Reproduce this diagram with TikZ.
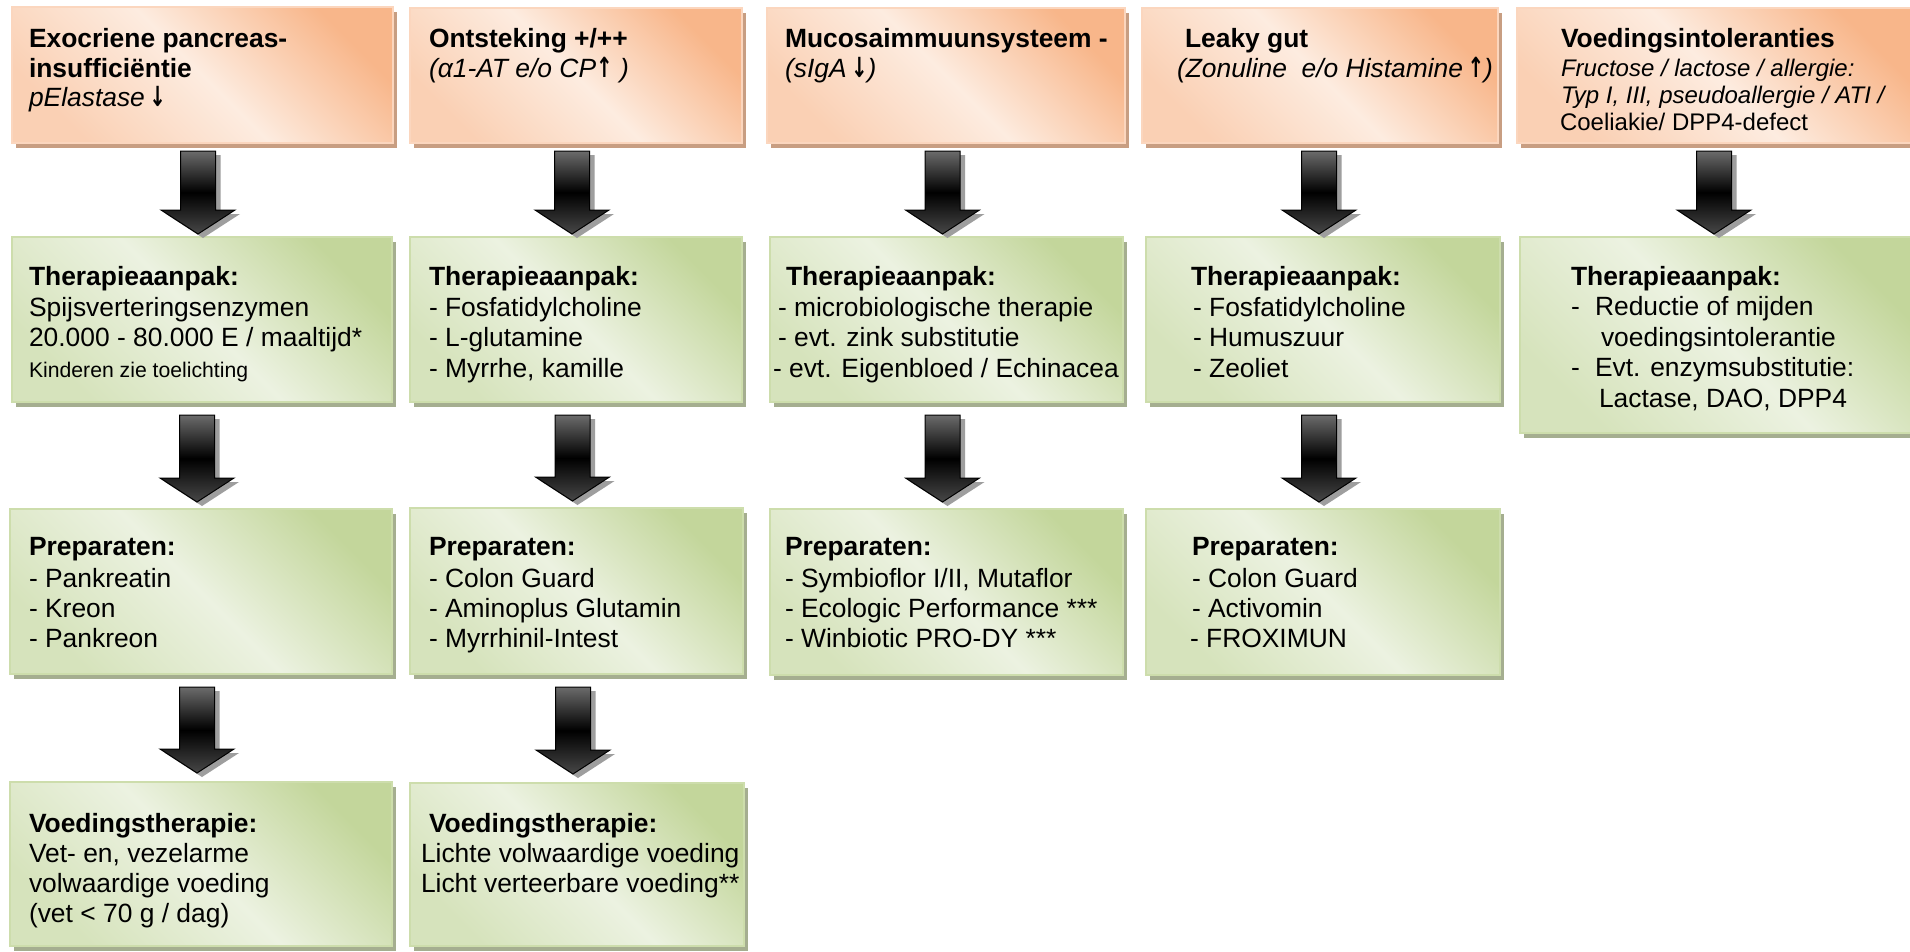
\documentclass[tikz,border=0pt]{standalone}
\usepackage{graphicx}
\usepackage{fontspec}
\setmainfont{Liberation Sans}
\newfontfamily\arrfont{DejaVu Sans}
\usetikzlibrary{calc,shadows}
\definecolor{orD}{RGB}{248,182,138}
\definecolor{orL}{RGB}{253,236,224}
\definecolor{orM}{RGB}{250,208,180}
\definecolor{orS}{RGB}{200,158,130}
\definecolor{orE}{RGB}{251,214,190}
\definecolor{grD}{RGB}{195,214,155}
\definecolor{grL}{RGB}{236,242,225}
\definecolor{grM}{RGB}{214,227,188}
\definecolor{grS}{RGB}{165,174,144}
\definecolor{grE}{RGB}{205,221,172}
\newcommand\fs{\fontsize{26.4}{30}\selectfont}
\newcommand\fsmall{\fontsize{21.2}{25}\selectfont}
\newcommand\fmid{\fontsize{24}{27}\selectfont}
\newcommand\dn{{\upshape\scalebox{0.75}[1.05]{\arrfont\bfseries ↓}}}
\newcommand\up{{\upshape\scalebox{0.75}[1.05]{\arrfont\bfseries ↑}}}
\tikzset{
  obox/.style={rectangle, inner sep=0pt, outer sep=0pt,
    top color=orD, bottom color=orM, middle color=orL, shading angle=-45,
    draw=orE, line width=1.2pt,
    drop shadow={shadow xshift=4pt, shadow yshift=-5pt, fill=orS, opacity=1}},
  gbox/.style={rectangle, inner sep=0pt, outer sep=0pt,
    top color=grD, bottom color=grM, middle color=grL, shading angle=-45,
    draw=grE, line width=1.2pt,
    drop shadow={shadow xshift=4pt, shadow yshift=-5pt, fill=grS, opacity=1}},
  txt/.style={anchor=base west, inner sep=0pt, outer sep=0pt, font=\fs},
  arrbody/.style={top color=black!58, bottom color=black!72, middle color=black,
    draw=black, line width=1pt, line join=miter},
  arrshadow/.style={fill=black!38, draw=none}
}
\newcommand\boxnode[6]{\node[#2, minimum width={#5-#3}, minimum height={#6-#4}, anchor=north west] (#1) at (#3,#4) {};}
\newcommand\txtline[4]{\node[txt] (#1) at (#2,#3) {#4};}
\newcommand\arrowpath[5]{%
  \path[#5] let \p1=(#1.south), \p2=(#2.north) in
    (\x2-21.5pt,\y1-#3pt) -- (\x2+13.5pt,\y1-#3pt) -- (\x2+13.5pt,\y2+#4pt+24pt)
    -- (\x2+33pt,\y2+#4pt+24pt) -- (\x2-4pt,\y2+#4pt) -- (\x2-41pt,\y2+#4pt+24pt)
    -- (\x2-21.5pt,\y2+#4pt+24pt) -- cycle;}
\newcommand\blockarrow[4]{%
  \begin{scope}[transform canvas={shift={(5pt,-4pt)}}]
    \arrowpath{#1}{#2}{#3}{#4}{arrshadow}
  \end{scope}
  \arrowpath{#1}{#2}{#3}{#4}{arrbody}}
\begin{document}
\begin{tikzpicture}[x=1pt,y=-1pt]
\useasboundingbox (0,0) rectangle (1910,951);
\fill[white] (0,0) rectangle (1910,951);
% row 1
\boxnode{o1}{obox}{12}{7}{393}{143}
\boxnode{o2}{obox}{410}{8}{742}{143}
\boxnode{o3}{obox}{767}{8}{1125}{143}
\boxnode{o4}{obox}{1142}{8}{1498}{143}
\boxnode{o5}{obox}{1517}{8}{1916}{143}
% row 2
\boxnode{g1}{gbox}{12}{237}{392}{402}
\boxnode{g2}{gbox}{410}{237}{742}{402}
\boxnode{g3}{gbox}{770}{237}{1123}{402}
\boxnode{g4}{gbox}{1146}{237}{1500}{402}
\boxnode{g5}{gbox}{1520}{237}{1916}{433}
% row 3
\boxnode{p1}{gbox}{10}{509}{392}{674}
\boxnode{p2}{gbox}{410}{508}{743}{674}
\boxnode{p3}{gbox}{770}{509}{1123}{675}
\boxnode{p4}{gbox}{1146}{509}{1500}{675}
% row 4
\boxnode{v1}{gbox}{10}{782}{392}{946}
\boxnode{v2}{gbox}{410}{783}{744}{946}
% arrows
\blockarrow{o1}{g1}{8}{3}
\blockarrow{o2}{g2}{8}{3}
\blockarrow{o3}{g3}{8}{3}
\blockarrow{o4}{g4}{8}{3}
\blockarrow{o5}{g5}{8}{3}
\blockarrow{g1}{p1}{13}{7}
\blockarrow{g2}{p2}{13}{7}
\blockarrow{g3}{p3}{13}{7}
\blockarrow{g4}{p4}{13}{7}
\blockarrow{p1}{v1}{13}{9}
\blockarrow{p2}{v2}{13}{9}
% row 1 texts
\txtline{o1a}{29}{47}{\bfseries Exocriene pancreas-}
\txtline{o1b}{29}{77}{\bfseries insufficiëntie}
\txtline{o1c}{29}{106}{\itshape pElastase\,\dn}
\txtline{o2a}{429}{47}{\bfseries Ontsteking +/++}
\txtline{o2b}{429}{77}{\itshape (α1-AT e/o CP\up\ )}
\txtline{o3a}{785}{47}{\bfseries Mucosaimmuunsysteem -}
\txtline{o3b}{785}{77}{\itshape (sIgA\,\dn)}
\txtline{o4a}{1185}{47}{\bfseries Leaky gut}
\txtline{o4b}{1177}{77}{\itshape (Zonuline\ \ e/o Histamine\,\up)}
\txtline{o5a}{1561}{47}{\bfseries Voedingsintoleranties}
\txtline{o5b}{1561}{76}{\fmid\itshape Fructose / lactose / allergie:}
\txtline{o5c}{1561}{103}{\fmid\itshape Typ I, III, pseudoallergie / ATI /}
\txtline{o5d}{1560}{130}{\fmid Coeliakie/ DPP4-defect}
% row 2 texts
\txtline{g1a}{29}{285}{\bfseries Therapieaanpak:}
\txtline{g1b}{29}{316}{Spijsverteringsenzymen}
\txtline{g1c}{29}{346}{20.000 - 80.000 E / maaltijd*}
\txtline{g1d}{29}{377}{\fsmall Kinderen zie toelichting}
\txtline{g2a}{429}{285}{\bfseries Therapieaanpak:}
\txtline{g2b}{429}{316}{- Fosfatidylcholine}
\txtline{g2c}{429}{346}{- L-glutamine}
\txtline{g2d}{429}{377}{- Myrrhe, kamille}
\txtline{g3a}{786}{285}{\bfseries Therapieaanpak:}
\txtline{g3b}{778}{316}{- microbiologische therapie}
\txtline{g3c}{778}{346}{- evt. zink substitutie}
\txtline{g3d}{773}{377}{- evt. Eigenbloed / Echinacea}
\txtline{g4a}{1191}{285}{\bfseries Therapieaanpak:}
\txtline{g4b}{1193}{316}{- Fosfatidylcholine}
\txtline{g4c}{1193}{346}{- Humuszuur}
\txtline{g4d}{1193}{377}{- Zeoliet}
\txtline{g5a}{1571}{285}{\bfseries Therapieaanpak:}
\txtline{g5b}{1571}{315}{-}
\txtline{g5c}{1595}{315}{Reductie of mijden}
\txtline{g5d}{1601}{346}{voedingsintolerantie}
\txtline{g5e}{1571}{376}{-}
\txtline{g5f}{1595}{376}{Evt. enzymsubstitutie:}
\txtline{g5g}{1599}{407}{Lactase, DAO, DPP4}
% row 3 texts
\txtline{p1a}{29}{555}{\bfseries Preparaten:}
\txtline{p1b}{29}{587}{- Pankreatin}
\txtline{p1c}{29}{617}{- Kreon}
\txtline{p1d}{29}{647}{- Pankreon}
\txtline{p2a}{429}{555}{\bfseries Preparaten:}
\txtline{p2b}{429}{587}{- Colon Guard}
\txtline{p2c}{429}{617}{- Aminoplus Glutamin}
\txtline{p2d}{429}{647}{- Myrrhinil-Intest}
\txtline{p3a}{785}{555}{\bfseries Preparaten:}
\txtline{p3b}{785}{587}{- Symbioflor I/II, Mutaflor}
\txtline{p3c}{785}{617}{- Ecologic Performance ***}
\txtline{p3d}{785}{647}{- Winbiotic PRO-DY ***}
\txtline{p4a}{1192}{555}{\bfseries Preparaten:}
\txtline{p4b}{1192}{587}{- Colon Guard}
\txtline{p4c}{1192}{617}{- Activomin}
\txtline{p4d}{1190}{647}{- FROXIMUN}
% row 4 texts
\txtline{v1a}{29}{832}{\bfseries Voedingstherapie:}
\txtline{v1b}{29}{862}{Vet- en, vezelarme}
\txtline{v1c}{29}{892}{volwaardige voeding}
\txtline{v1d}{29}{922}{(vet < 70 g / dag)}
\txtline{v2a}{429}{832}{\bfseries Voedingstherapie:}
\txtline{v2b}{421}{862}{Lichte volwaardige voeding}
\txtline{v2c}{421}{892}{Licht verteerbare voeding**}
\end{tikzpicture}
\end{document}
